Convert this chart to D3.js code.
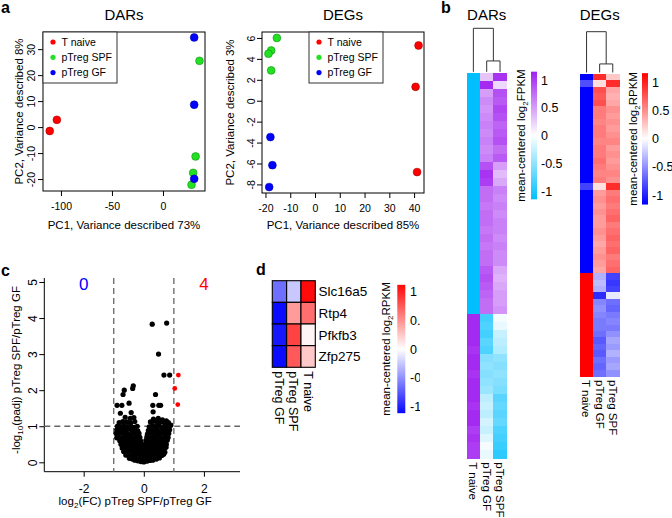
<!DOCTYPE html>
<html><head><meta charset="utf-8">
<script src="https://cdn.jsdelivr.net/npm/d3@7"></script>
<style>body{margin:0;background:#fff} svg{display:block} text{font-family:"Liberation Sans",Arial,sans-serif;fill:#000}</style>
</head><body><svg id="c" width="672" height="518"></svg>
<script>
// ---------------- data ----------------
const groupNames = ["T naive","pTreg SPF","pTreg GF"];
const groupColors = ["#FF0000","#22E022","#0000FF"];

const darPC1 = [-111,-104,35.8,32,29.6,28,30.6,30.6,30.6];
const darPC2 = [-1.5,2.8,25.5,-11.3,-17.6,-22.2,34.5,8.6,-19.9];
const darGroup = [0,0,1,1,1,1,2,2,2];
const darXTicks = [-100,-50,0];
const darYTicks = [-20,-10,0,10,20,30];

const degPC1 = [41.8,40.6,41.2,-15.4,-17.7,-18.8,-17.7,-18,-17.2,-18.5];
const degPC2 = [5.28,1.33,-6.82,6.0,4.8,4.5,2.9,-3.47,-6.16,-8.25];
const degGroup = [0,0,0,1,1,1,1,2,2,2];
const degXTicks = [-20,-10,0,10,20,30,40];
const degYTicks = [-8,-6,-4,-2,0,2,4,6];

const heatCols = ["T naive","pTreg GF","pTreg SPF"];
const darTnaive = [-1.15,-1.15,-1.15,-1.15,-1.15,-1.15,-1.15,-1.15,-1.15,-1.15,
  -1.15,-1.15,-1.15,-1.15,-1.15,-1.15,-1.15,-1.15,-1.15,-1.15,
  -1.15,-1.15,-1.15,-1.15,-1.15,-1.15,-1.15,-1.15,-1.15,-1.15,
  1.1,1.1,1.1,1.1,1.05,1.1,1.1,1.05,1.1,1.1,1.1,1.05,1.1,1.1,1.0,1.05,1.0,1.0];
const darGF = [0.3,1.1,0.5,0.6,0.55,0.6,0.65,0.6,0.65,0.6,0.65,0.9,1.05,1.0,0.75,
  0.75,0.7,0.75,0.75,0.7,0.75,0.7,0.75,0.75,0.85,0.9,0.85,0.8,0.75,0.75,
  -0.85,-0.8,-0.85,-0.75,-0.8,-0.55,-0.5,-0.55,-0.5,-0.45,-0.3,-0.25,-0.3,-0.2,-0.25,-0.15,-0.05,-0.1];
const darSPF = [1.05,0.2,0.9,0.85,0.95,0.9,0.8,0.85,0.9,0.75,0.85,0.5,0.35,0.45,0.65,
  0.6,0.65,0.6,0.65,0.65,0.6,0.65,0.6,0.6,0.45,0.4,0.45,0.5,0.5,0.55,
  -0.05,-0.1,-0.25,-0.3,-0.35,-0.5,-0.55,-0.5,-0.55,-0.6,-0.75,-0.7,-0.75,-0.7,-0.8,-0.85,-0.9,-0.95];

const degTnaive = [-1.15,-0.8,-1.15,-1.15,-1.15,-1.15,-1.15,-1.15,-1.15,-1.15,
  -1.15,-1.15,-1.15,-1.15,-1.15,-1.15,-1.15,-0.85,-1.15,-1.15,
  -1.15,-1.15,-1.15,-1.15,-1.15,-1.15,-1.15,-1.15,-1.15,-1.15,-1.15,
  1.15,1.15,1.15,1.15,1.15,1.15,1.15,1.15,1.15,1.15,1.15,1.15,1.15,1.15,1.15,1.15];
const degGF = [0.95,0.15,0.8,0.75,0.8,0.6,0.6,0.55,0.6,0.6,0.55,0.6,0.6,0.65,0.6,0.55,0.6,0.15,
  0.45,0.5,0.45,0.5,0.45,0.45,0.5,0.45,0.4,0.45,0.5,0.45,0.4,
  -0.35,-0.3,-0.35,-0.95,-0.55,-0.5,-0.55,-0.6,-0.6,-0.65,-0.75,-0.7,-0.75,-0.65,-0.7,-0.65];
const degSPF = [0.25,0.95,0.4,0.35,0.4,0.5,0.45,0.5,0.45,0.5,0.55,0.45,0.5,0.45,0.5,0.55,0.5,0.95,
  0.6,0.65,0.6,0.65,0.7,0.6,0.65,0.7,0.65,0.7,0.6,0.65,0.7,
  -0.85,-0.9,-0.85,-0.1,-0.65,-0.7,-0.6,-0.55,-0.6,-0.5,-0.4,-0.45,-0.35,-0.45,-0.4,-0.5];
const legendTicks = [-1,-0.5,0,0.5,1];
// dendrogram merge heights (relative): [root, sub-cluster]
const darMergeHeights = [1.0, 0.25];
const degMergeHeights = [1.0, 0.21];

// volcano
const volcXTicks = [-2,0,2];
const volcYTicks = [0,1,2,3,4,5];
const volcCounts = ["0","4"];
const volcSig = [[1.15,2.42],[1.03,2.05],[1.13,1.60]];
const volcPoints = [
 [0.28,3.83],[0.76,3.86],[0.49,3.0],[0.67,2.42],[0.86,2.42],[0.39,1.88],[0.30,1.58],[0.50,1.58],[0.56,1.58],[0.31,1.40],
 [-0.35,2.12],[-0.37,2.05],[-0.65,2.0],[-0.69,1.88],[-0.49,1.64],[-0.89,1.58],[-0.73,1.58],[-0.78,1.36],[-0.42,1.38],
 [-0.62,1.25],[-0.45,1.22],[-0.33,1.24],[0.32,1.20],[0.48,1.22],[0.62,1.18],[0.75,1.15],
 [-0.82,1.10],[-0.70,1.13],[-0.57,1.12],[-0.44,1.10],[-0.30,1.13],[0.22,1.12],[0.35,1.14],[0.46,1.10],[0.58,1.12],[0.70,1.08],[0.82,1.10],
 [-0.88,1.00],[-0.78,0.98],[-0.67,1.02],[-0.55,0.99],[-0.44,1.01],[-0.33,0.97],[-0.22,1.00],[0.18,0.98],[0.29,1.02],[0.40,0.99],[0.51,1.01],[0.62,0.97],[0.73,1.00],[0.84,0.98],[0.90,1.03],
 [-0.90,0.90],[-0.80,0.88],[-0.70,0.91],[-0.60,0.89],[-0.50,0.92],[-0.40,0.88],[-0.30,0.90],[-0.20,0.87],[0.15,0.88],[0.25,0.91],[0.35,0.88],[0.45,0.90],[0.55,0.87],[0.65,0.91],[0.75,0.88],[0.86,0.90],
 [-0.92,0.80],[-0.86,0.79],[-0.76,0.81],[-0.66,0.78],[-0.56,0.80],[-0.46,0.77],[-0.36,0.81],[-0.26,0.78],[-0.16,0.80],[0.12,0.78],[0.22,0.81],[0.32,0.77],[0.42,0.80],[0.52,0.78],[0.62,0.81],[0.72,0.78],[0.83,0.80],
 [-0.90,0.68],[-0.84,0.70],[-0.74,0.68],[-0.64,0.71],[-0.54,0.69],[-0.44,0.72],[-0.34,0.68],[-0.24,0.70],[-0.13,0.69],[0.10,0.70],[0.20,0.68],[0.30,0.71],[0.40,0.69],[0.50,0.72],[0.60,0.68],[0.70,0.70],[0.81,0.69],
 [-0.80,0.60],[-0.70,0.58],[-0.60,0.61],[-0.50,0.59],[-0.40,0.62],[-0.30,0.58],[-0.20,0.60],[-0.10,0.59],[0.07,0.61],[0.17,0.58],[0.27,0.60],[0.37,0.62],[0.47,0.58],[0.57,0.60],[0.67,0.59],[0.78,0.61],
 [-0.76,0.50],[-0.66,0.48],[-0.56,0.51],[-0.46,0.49],[-0.36,0.52],[-0.26,0.48],[-0.16,0.50],[-0.06,0.49],[0.05,0.51],[0.15,0.48],[0.25,0.50],[0.35,0.52],[0.45,0.49],[0.55,0.51],[0.65,0.48],[0.75,0.50],
 [-0.72,0.40],[-0.62,0.38],[-0.52,0.41],[-0.42,0.39],[-0.32,0.42],[-0.22,0.38],[-0.12,0.40],[-0.02,0.39],[0.08,0.41],[0.18,0.38],[0.28,0.40],[0.38,0.42],[0.48,0.39],[0.58,0.41],[0.68,0.38],[0.74,0.42],
 [-0.67,0.30],[-0.57,0.28],[-0.47,0.31],[-0.37,0.29],[-0.27,0.32],[-0.17,0.28],[-0.07,0.30],[0.03,0.29],[0.13,0.31],[0.23,0.28],[0.33,0.30],[0.43,0.32],[0.53,0.29],[0.63,0.31],[0.70,0.28],
 [-0.60,0.20],[-0.50,0.18],[-0.40,0.21],[-0.30,0.19],[-0.20,0.22],[-0.10,0.18],[0.00,0.20],[0.10,0.19],[0.20,0.21],[0.30,0.18],[0.40,0.20],[0.50,0.22],[0.60,0.19],[0.66,0.22],
 [-0.48,0.11],[-0.38,0.09],[-0.28,0.10],[-0.18,0.08],[-0.08,0.11],[0.02,0.09],[0.12,0.10],[0.22,0.08],[0.32,0.11],[0.42,0.09],[0.52,0.12],
 [-0.30,0.06],[-0.20,0.04],[-0.10,0.02],[0.00,0.01],[0.10,0.03],[0.20,0.05],[0.30,0.06]
];

// panel d
const dGenes = ["Slc16a5","Rtp4","Pfkfb3","Zfp275"];
const dCols = ["pTreg GF","pTreg SPF","T naive"];
const dGF = [-0.65,-1.1,-1.05,-1.1];
const dSPF = [-0.25,0.45,0.85,0.75];
const dTnaive = [1.1,0.65,0.05,0.25];

// ---------------- drawing ----------------
const svg = d3.select("#c");
const FONT = '"Liberation Sans",Arial,sans-serif';
const defs = svg.append("defs");

function panelLabel(t,x,y){ svg.append("text").attr("x",x).attr("y",y).attr("font-size",16).attr("font-weight","bold").text(t); }

function styleYTicks(g, off, fs){
  g.select(".domain").remove();
  g.selectAll(".tick line").attr("stroke","#000");
  g.selectAll(".tick text").attr("transform","rotate(-90)").attr("x",0).attr("y",-off).attr("dy",0)
   .attr("text-anchor","middle").attr("font-size",fs).attr("font-family",FONT);
}
function styleXTicks(g, off, fs){
  g.select(".domain").remove();
  g.selectAll(".tick line").attr("stroke","#000");
  g.selectAll(".tick text").attr("y",off).attr("dy",0).attr("font-size",fs).attr("font-family",FONT);
}

function pcaPanel(o){
  const x = d3.scaleLinear().domain(o.xd).range([o.l,o.r]);
  const y = d3.scaleLinear().domain(o.yd).range([o.b,o.t]);
  const g = svg.append("g");
  g.append("rect").attr("x",o.l).attr("y",o.t).attr("width",o.r-o.l).attr("height",o.b-o.t)
    .attr("fill","none").attr("stroke","#000").attr("stroke-width",1);
  g.append("g").attr("transform",`translate(0,${o.b})`)
    .call(d3.axisBottom(x).tickValues(o.xt).tickSize(5).tickFormat(d=>String(d)))
    .call(s=>styleXTicks(s,o.xOff,10.5));
  g.append("g").attr("transform",`translate(${o.l},0)`)
    .call(d3.axisLeft(y).tickValues(o.yt).tickSize(5).tickFormat(d=>String(d)))
    .call(s=>styleYTicks(s,o.yOff,10.5));
  g.append("text").attr("x",(o.l+o.r)/2).attr("y",20).attr("text-anchor","middle").attr("font-size",15).text(o.title);
  g.append("text").attr("x",(o.l+o.r)/2).attr("y",229).attr("text-anchor","middle").attr("font-size",11.5).text(o.xlab);
  g.append("text").attr("transform",`translate(${o.ylabX},${(o.t+o.b)/2}) rotate(-90)`).attr("text-anchor","middle").attr("font-size",11.5).text(o.ylab);
  // legend
  const lg = g.append("g");
  lg.append("rect").attr("x",o.leg[0]).attr("y",o.t).attr("width",o.leg[1]-o.leg[0]).attr("height",51)
    .attr("fill","#fff").attr("stroke","#333").attr("stroke-width",1);
  groupNames.forEach((n,i)=>{
    const cy = o.t+10+i*15.3;
    lg.append("circle").attr("cx",o.leg[0]+10).attr("cy",cy).attr("r",2.6).attr("fill",groupColors[i]);
    lg.append("text").attr("x",o.leg[0]+18.5).attr("y",cy+3.8).attr("font-size",10.5).text(n);
  });
  const idx = d3.range(o.px.length);
  g.selectAll("circle.pt").data(idx).join("circle").attr("class","pt")
    .attr("cx",i=>x(o.px[i])).attr("cy",i=>y(o.py[i])).attr("r",3.9)
    .attr("fill",i=>groupColors[o.pg[i]])
    .attr("stroke",i=>d3.color(groupColors[o.pg[i]]).darker(1.2)).attr("stroke-width",0.6);
}

panelLabel("a",1,13);
pcaPanel({l:43,r:205,t:32,b:191,xd:[-117.6,41.2],yd:[-24.6,36.6],xt:darXTicks,yt:darYTicks,xOff:19,yOff:8,
  title:"DARs",xlab:"PC1, Variance described 73%",ylab:"PC2, Variance described 8%",ylabX:23,
  leg:[43,117],px:darPC1,py:darPC2,pg:darGroup});
pcaPanel({l:262,r:424,t:32,b:193,xd:[-21.4,44.0],yd:[-8.82,6.57],xt:degXTicks,yt:degYTicks,xOff:18.5,yOff:7,
  title:"DEGs",xlab:"PC1, Variance described 85%",ylab:"PC2, Variance described 3%",ylabX:234,
  leg:[309,383],px:degPC1,py:degPC2,pg:degGroup});

// ---------- panel b heatmaps ----------
panelLabel("b",441,13);
const darColor = d3.scaleLinear().domain([-1.15,0,1.15]).range(["#00BFFF","#FFFFFF","#A020F0"]).clamp(true);
const rpkmColor = d3.scaleLinear().domain([-1.15,0,1.15]).range(["#0000FF","#FFFFFF","#FF0000"]).clamp(true);

function colorbar(id, x, w, yTicksScale, lo, hi, color, labelX, titleX, unit){
  const grad = defs.append("linearGradient").attr("id",id).attr("x1",0).attr("y1",1).attr("x2",0).attr("y2",0);
  d3.range(11).forEach(k=>{
    const v = lo + (hi-lo)*k/10;
    grad.append("stop").attr("offset",k/10).attr("stop-color",color(v));
  });
  svg.append("rect").attr("x",x).attr("y",yTicksScale(hi)).attr("width",w).attr("height",yTicksScale(lo)-yTicksScale(hi))
    .attr("fill",`url(#${id})`);
  const lab = svg.append("g");
  legendTicks.forEach(t=>{
    lab.append("text").attr("x",labelX).attr("y",yTicksScale(t)).attr("dy","0.36em").attr("font-size",12.5).text(String(t));
  });
  const cy = (yTicksScale(lo)+yTicksScale(hi))/2;
  const tt = svg.append("text").attr("transform",`translate(${titleX},${cy}) rotate(-90)`).attr("text-anchor","middle").attr("font-size",11.5);
  tt.append("tspan").text("mean-centered log");
  tt.append("tspan").attr("font-size",8).attr("dy",3).text("2");
  tt.append("tspan").attr("dy",-3).text(unit);
  return lab;
}

function heatmap(o){
  const xb = d3.scaleBand().domain(d3.range(3)).range([o.l,o.r]);
  const yb = d3.scaleBand().domain(d3.range(o.cols[0].length)).range([o.t,o.b]);
  const g = svg.append("g").attr("shape-rendering","crispEdges");
  o.cols.forEach((vals,ci)=>{
    g.selectAll(null).data(vals).join("rect")
      .attr("x",xb(ci)).attr("y",(d,ri)=>yb(ri)).attr("width",xb.bandwidth()+0.4).attr("height",yb.bandwidth()+0.6)
      .attr("fill",d=>o.color(d));
  });
  svg.append("text").attr("x",(o.l+o.r)/2).attr("y",20).attr("text-anchor","middle").attr("font-size",15).text(o.title);
  heatCols.forEach((c,ci)=>{
    svg.append("text").attr("transform",`translate(${xb(ci)+xb.bandwidth()/2},${o.b+4}) rotate(90)`)
      .attr("dy","0.36em").attr("font-size",11.5).text(c);
  });
  const hy = d3.scaleLinear().domain([0,1]).range([o.t-1.5,o.rootY]);
  const cx = ci=>xb(ci)+xb.bandwidth()/2;
  const subMid = (cx(1)+cx(2))/2;
  const root = hy(o.mh[0]), sub = hy(o.mh[1]), leaf = hy(0);
  const path = `M${cx(0)},${leaf}V${root}H${subMid}V${sub} M${cx(1)},${leaf}V${sub}H${cx(2)}V${leaf}`;
  svg.append("path").attr("d",path).attr("fill","none").attr("stroke","#333").attr("stroke-width",1);
}

heatmap({l:466.7,r:506.7,t:73.3,b:458.3,cols:[darTnaive,darGF,darSPF],color:darColor,title:"DARs",rootY:28.3,mh:darMergeHeights});
heatmap({l:580,r:619.3,t:74,b:376,cols:[degTnaive,degGF,degSPF],color:rpkmColor,title:"DEGs",rootY:31.7,mh:degMergeHeights});

colorbar("g1",531,6,d3.scaleLinear().domain([-1,1]).range([191,80]),-1.15,1.15,darColor,541,524.5,"FPKM");
colorbar("g2",642,6,d3.scaleLinear().domain([-1,1]).range([195,82.7]),-1.17,1.17,rpkmColor,652,636.5,"RPKM");

// ---------- panel c volcano ----------
panelLabel("c",1,276);
{
  const l=44.3, r=240, t=278, b=471.7;
  const x = d3.scaleLinear().domain([-3.31,3.2]).range([l,r]);
  const y = d3.scaleLinear().domain([0,5]).range([462.3,282]);
  const g = svg.append("g");
  g.append("path").attr("d",`M${l},${t}V${b}H${r}`).attr("fill","none").attr("stroke","#000");
  g.append("g").attr("transform",`translate(0,${b})`)
    .call(d3.axisBottom(x).tickValues(volcXTicks).tickSize(5).tickFormat(d=>String(d)))
    .call(s=>styleXTicks(s,21,12));
  g.append("g").attr("transform",`translate(${l},0)`)
    .call(d3.axisLeft(y).tickValues(volcYTicks).tickSize(5).tickFormat(d=>String(d)))
    .call(s=>styleYTicks(s,7.6,12));
  const dash = "6,4";
  [-1,1].forEach(v=>g.append("line").attr("x1",x(v)).attr("x2",x(v)).attr("y1",t).attr("y2",b)
     .attr("stroke","#666").attr("stroke-width",1.3).attr("stroke-dasharray",dash));
  g.append("line").attr("x1",l).attr("x2",r).attr("y1",y(1)).attr("y2",y(1))
     .attr("stroke","#666").attr("stroke-width",1.3).attr("stroke-dasharray",dash);
  g.selectAll("circle.v").data(volcPoints).join("circle").attr("class","v")
    .attr("cx",d=>x(d[0])).attr("cy",d=>y(d[1])).attr("r",2.6).attr("fill","#000");
  g.selectAll("circle.s").data(volcSig).join("circle").attr("class","s")
    .attr("cx",d=>x(d[0])).attr("cy",d=>y(d[1])).attr("r",2.4).attr("fill","#FF0000");
  g.append("text").attr("x",x(-2)).attr("y",289.5).attr("text-anchor","middle").attr("font-size",17).style("fill","#0000FF").text(volcCounts[0]);
  g.append("text").attr("x",x(2)).attr("y",289.5).attr("text-anchor","middle").attr("font-size",17).style("fill","#FF0000").text(volcCounts[1]);
  const xl = g.append("text").attr("x",(l+r)/2-7).attr("y",505).attr("text-anchor","middle").attr("font-size",11.5);
  xl.append("tspan").text("log");
  xl.append("tspan").attr("font-size",8).attr("dy",3).text("2");
  xl.append("tspan").attr("dy",-3).text("(FC) pTreg SPF/pTreg GF");
  const yl = g.append("text").attr("transform",`translate(20,${370}) rotate(-90)`).attr("text-anchor","middle").attr("font-size",11.5);
  yl.append("tspan").text("-log");
  yl.append("tspan").attr("font-size",8).attr("dy",3).text("10");
  yl.append("tspan").attr("dy",-3).text("(padj) pTreg SPF/pTreg GF");
}

// ---------- panel d ----------
panelLabel("d",256,275);
{
  const xb = d3.scaleBand().domain(d3.range(3)).range([272.3,315.3]);
  const yb = d3.scaleBand().domain(d3.range(4)).range([280.7,367.3]);
  const cols = [dGF,dSPF,dTnaive];
  const g = svg.append("g");
  cols.forEach((vals,ci)=>{
    g.selectAll(null).data(vals).join("rect")
      .attr("x",xb(ci)).attr("y",(d,ri)=>yb(ri)).attr("width",xb.bandwidth()).attr("height",yb.bandwidth())
      .attr("fill",d=>rpkmColor(d)).attr("stroke","#000").attr("stroke-width",1.1);
  });
  dGenes.forEach((n,ri)=>g.append("text").attr("x",318.5).attr("y",yb(ri)+yb.bandwidth()/2).attr("dy","0.36em").attr("font-size",13.5).text(n));
  dCols.forEach((c,ci)=>g.append("text").attr("transform",`translate(${xb(ci)+xb.bandwidth()/2},${367.3+4}) rotate(90)`)
     .attr("dy","0.36em").attr("font-size",12.5).text(c));
  colorbar("g3",397.3,8,d3.scaleLinear().domain([-1,1]).range([406.3,291.7]),-1.12,1.12,rpkmColor,410,389.5,"RPKM");
  // the panel-b image edge hides the right part of these labels in the figure
  svg.append("rect").attr("x",420).attr("y",280).attr("width",30).attr("height",140).attr("fill","#fff");
}
</script></body></html>
